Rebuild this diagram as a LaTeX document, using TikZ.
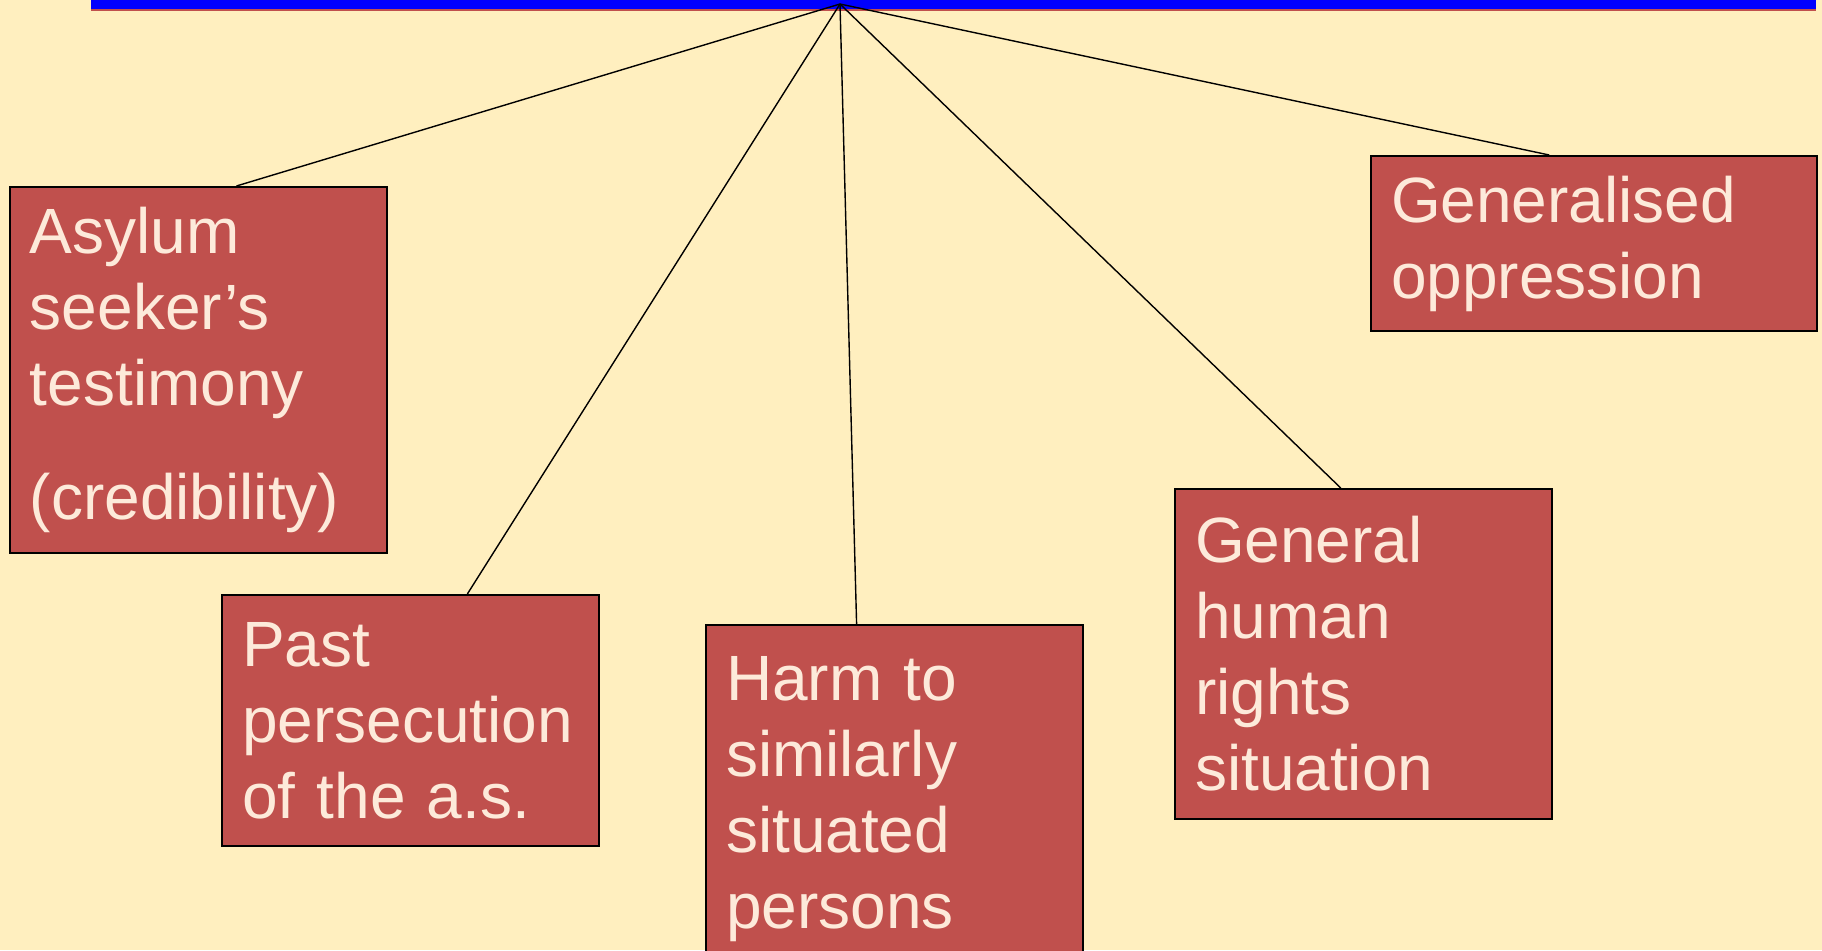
\documentclass[tikz,border=0pt]{standalone}
\usepackage{fontspec}
\setmainfont{Liberation Sans}
\usetikzlibrary{calc}

\definecolor{paper}{HTML}{FFEFBF}
\definecolor{brick}{HTML}{C0504D}
\definecolor{cream}{HTML}{FDEADA}

\begin{document}
\begin{tikzpicture}[x=0.5pt, y=-0.5pt,
    cause/.style={shape=rectangle, draw=black, line width=1pt, fill=brick, text=cream,
        font=\fontsize{32}{38}\selectfont, align=left, anchor=north west,
        inner xsep=10pt, inner ysep=0pt, text width=168.5pt},
    link/.style={draw=black, line width=0.7pt}]

    \path[use as bounding box, fill=paper] (0,0) rectangle (1822,950);
    \clip (0,0) rectangle (1822,950);

    \fill[blue] (91,-20) rectangle (1816,10);
    \draw[brick, line width=1pt] (91,10) -- (1816,10);
    \coordinate (hub) at (840,4);

    \node[cause, minimum height=183pt] (asylum) at (9,186) {Asylum\\seeker’s\\testimony\\[19pt](credibility)};
    \node[cause, minimum height=125.5pt] (past) at (221,594) {Past\\persecution\\of the a.s.};
    \node[cause, minimum height=174pt] (harm) at (705,624) {Harm to\\similarly\\situated\\persons};
    \node[cause, minimum height=165pt] (rights) at (1174,488) {General\\human\\rights\\situation};
    \node[cause, minimum height=87.5pt, text width=203pt] (oppress) at (1370,155) {Generalised\\oppression};

    \draw[link] (hub) -- ($(asylum.north west)!0.60!(asylum.north east)$);
    \draw[link] (hub) -- ($(past.north west)!0.65!(past.north east)$);
    \draw[link] (hub) -- ($(harm.north west)!0.40!(harm.north east)$);
    \draw[link] (hub) -- ($(rights.north west)!0.44!(rights.north east)$);
    \draw[link] (hub) -- ($(oppress.north west)!0.40!(oppress.north east)$);

\end{tikzpicture}
\end{document}
